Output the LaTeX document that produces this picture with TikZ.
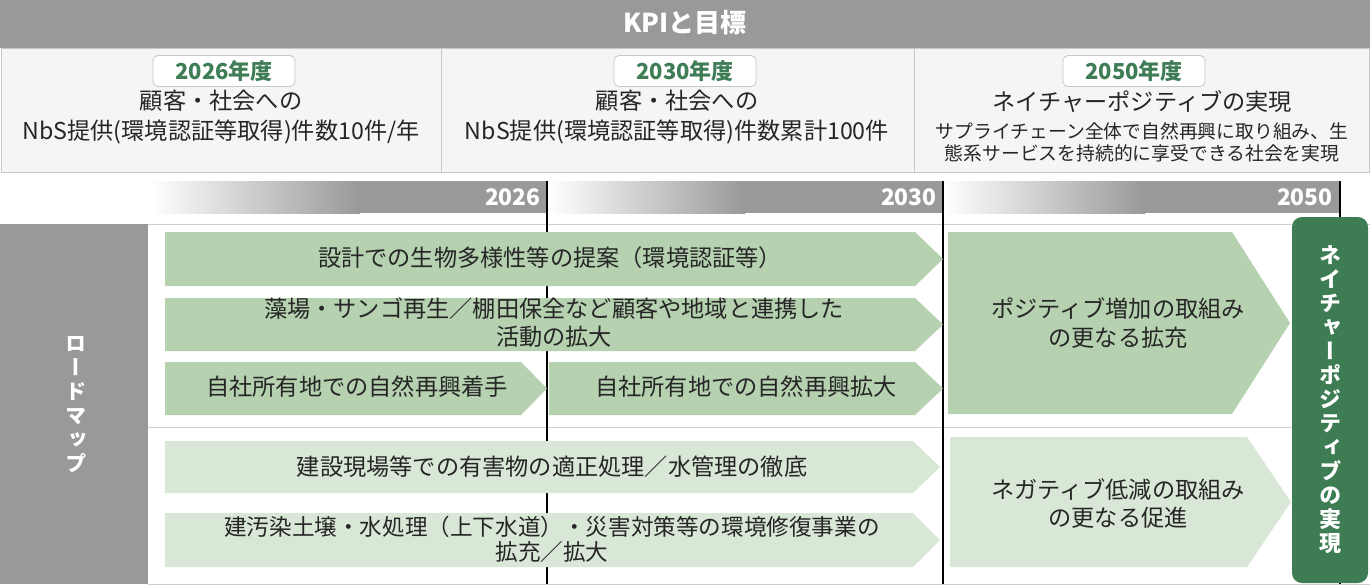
\documentclass[tikz,border=0pt]{standalone}
\usepackage{fontspec}
\usepackage{xcolor}
\setmainfont{Noto Sans CJK JP}
\newfontfamily\vjp[RawFeature=+vert]{Noto Sans CJK JP}
\definecolor{bargray}{HTML}{999999}
\definecolor{kpifill}{HTML}{F3F6F3}
\definecolor{kpiline}{HTML}{C8C8C8}
\definecolor{rulegray}{HTML}{CFCFCF}
\definecolor{yeargreen}{HTML}{3E7D56}
\definecolor{upgreen}{HTML}{B5D1B0}
\definecolor{lowgreen}{HTML}{D9E8D6}
\definecolor{goalgreen}{HTML}{3E7C54}
\definecolor{textdark}{HTML}{262626}
\begin{document}
\begin{tikzpicture}[x=0.5pt, y=-0.5pt,
        upstep/.style={fill=upgreen},
        lowstep/.style={fill=lowgreen},
        rmtext/.style={font=\fontsize{11.6}{14}\selectfont, text=textdark, align=center, inner sep=0pt},
        kpitext/.style={font=\fontsize{11.6}{15}\selectfont, text=textdark, align=center, inner sep=0pt},
        kpismall/.style={font=\fontsize{9.4}{11}\selectfont, text=textdark, align=center, inner sep=0pt},
        yearlabel/.style={draw=kpiline, fill=white, rounded corners=2.5pt, minimum width=71pt, minimum height=15.5pt, inner sep=0pt, text=yeargreen, font=\fontsize{11}{12}\selectfont\bfseries},
        yeartext/.style={anchor=east, text=white, inner sep=0pt, font=\fontsize{11.4}{12}\selectfont\bfseries},
        milestone/.style={black, line width=1.2pt},
        vtext/.style={text=white, align=center, inner sep=0pt}]
        \useasboundingbox (0,0) rectangle (1370,586);
        \fill[bargray] (0,0) rectangle (1370,48);
        \node[text=white, font=\fontsize{13}{14}\selectfont\bfseries] (kpi) at (685,23) {KPIと目標};
        \draw[kpiline, fill=kpifill] (1,48) rectangle (1369,172);
        \draw[kpiline] (441,48) -- (441,172);
        \draw[kpiline] (914,48) -- (914,172);
        \node[yearlabel] (y26) at (224,71) {2026年度};
        \node[yearlabel] (y30) at (685,71) {2030年度};
        \node[yearlabel] (y50) at (1134,71) {2050年度};
        \node[kpitext] (k26) at (221,117) {顧客・社会への\\NbS提供(環境認証等取得)件数10件/年};
        \node[kpitext] (k30) at (677,117) {顧客・社会への\\NbS提供(環境認証等取得)件数累計100件};
        \node[kpitext] (k50) at (1142,102) {ネイチャーポジティブの実現};
        \node[kpismall] (k50s) at (1142,142) {サプライチェーン全体で自然再興に取り組み、生\\態系サービスを持続的に享受できる社会を実現};
        \shade[left color=white, right color=bargray] (150,181) rectangle (360,213);
        \fill[bargray] (359,181) rectangle (547,213);
        \shade[left color=white, right color=bargray] (548,181) rectangle (745,213);
        \fill[bargray] (744,181) rectangle (943,213);
        \shade[left color=white, right color=bargray] (944,181) rectangle (1145,213);
        \fill[bargray] (1144,181) rectangle (1340,213);
        \node[yeartext] (t26) at (541,197) {2026};
        \node[yeartext] (t30) at (937,197) {2030};
        \node[yeartext] (t50) at (1333,197) {2050};
        \draw[rulegray] (148,224) -- (1370,224);
        \draw[rulegray] (148,427) -- (1292,427);
        \draw[rulegray] (148,584) -- (1370,584);
        \fill[bargray] (0,224) rectangle (148,584);
        \node[vtext, font=\vjp\fontsize{10.6}{12}\selectfont\bfseries] (road) at (76,405) {ロ\\ー\\ド\\マ\\ッ\\プ};
        \draw[milestone] (547,181) -- (547,584);
        \draw[milestone] (943,181) -- (943,584);
        \draw[milestone] (1340,181) -- (1340,584);
        \fill[upstep] (165,232) -- (915,232) -- (943,259) -- (915,286) -- (165,286) -- cycle;
        \fill[upstep] (165,298) -- (915,298) -- (943,324.5) -- (915,351) -- (165,351) -- cycle;
        \fill[upstep] (165,362) -- (521,362) -- (547,388.5) -- (521,415) -- (165,415) -- cycle;
        \fill[upstep] (549,362) -- (915,362) -- (943,388.5) -- (915,415) -- (549,415) -- cycle;
        \fill[lowstep] (165,441) -- (913,441) -- (940,467) -- (913,493) -- (165,493) -- cycle;
        \fill[lowstep] (165,513) -- (913,513) -- (940,540) -- (913,567) -- (165,567) -- cycle;
        \fill[upstep] (948,232) -- (1232,232) -- (1290,323) -- (1232,414) -- (948,414) -- cycle;
        \fill[lowstep] (950,437) -- (1247,437) -- (1291,502) -- (1247,567) -- (950,567) -- cycle;
        \node[rmtext] (design) at (550,258) {設計での生物多様性等の提案（環境認証等）};
        \node[rmtext] (collab) at (554,323) {藻場・サンゴ再生／棚田保全など顧客や地域と連携した\\活動の拡大};
        \node[rmtext] (own1) at (357,387) {自社所有地での自然再興着手};
        \node[rmtext] (own2) at (746,387) {自社所有地での自然再興拡大};
        \node[rmtext] (harm) at (552,467) {建設現場等での有害物の適正処理／水管理の徹底};
        \node[rmtext, font=\fontsize{11.3}{12.5}\selectfont] (repair) at (552,539) {建汚染土壌・水処理（上下水道）・災害対策等の環境修復事業の\\拡充／拡大};
        \node[rmtext, font=\fontsize{11.6}{14.5}\selectfont] (posi) at (1118,323) {ポジティブ増加の取組み\\の更なる拡充};
        \node[rmtext, font=\fontsize{11.6}{14}\selectfont] (nega) at (1118,503) {ネガティブ低減の取組み\\の更なる促進};
        \node[fill=goalgreen, rounded corners=5pt, minimum width=38pt, minimum height=183pt, inner sep=0pt] (goal) at (1330,400) {};
        \node[vtext, font=\vjp\fontsize{11}{12}\selectfont\bfseries] (goaltext) at (goal.center) {ネ\\イ\\チ\\ャ\\ー\\ポ\\ジ\\テ\\ィ\\ブ\\の\\実\\現};
    \end{tikzpicture}
\end{document}
